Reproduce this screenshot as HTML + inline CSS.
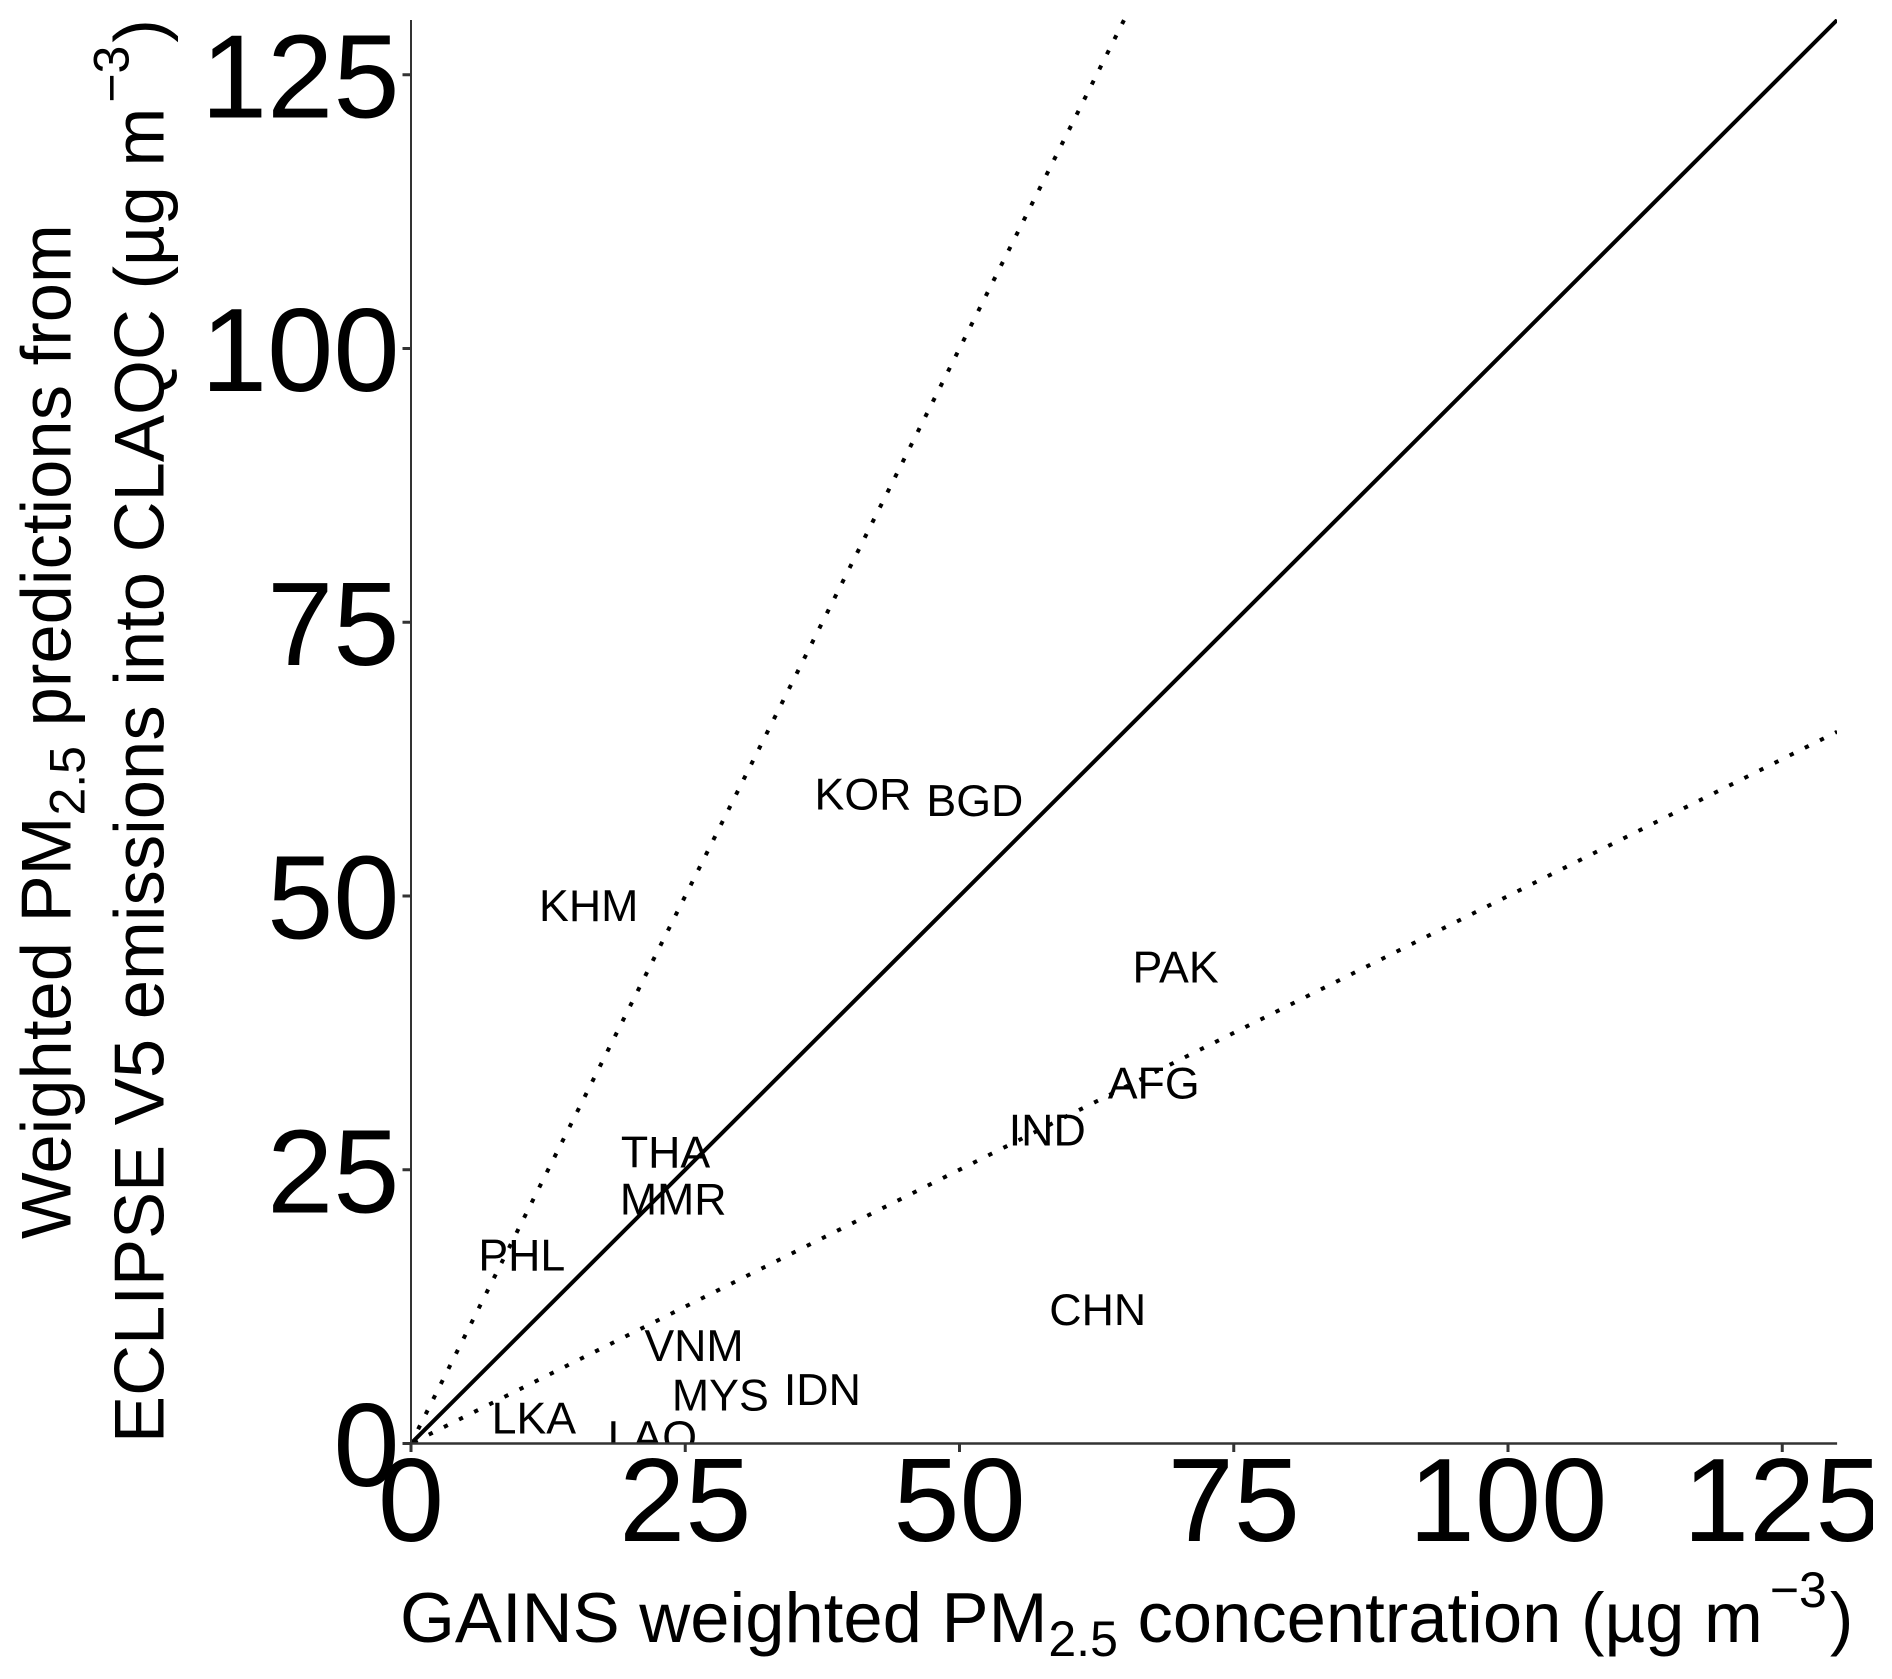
<!DOCTYPE html>
<html lang="en">
<head>
<meta charset="utf-8">
<title>GAINS vs ECLIPSE weighted PM2.5</title>
<style>
html,body{margin:0;padding:0;background:#fff;width:1892px;height:1679px;overflow:hidden}
svg{display:block;font-family:"Liberation Sans",Arial,sans-serif}
</style>
</head>
<body>
<svg id="chart" xmlns="http://www.w3.org/2000/svg" width="1892" height="1679" viewBox="0 0 1892 1679">
  <rect width="1892" height="1679" fill="#fff"/>
  <defs><clipPath id="panel-clip"><rect x="411" y="19" width="1426" height="1424.5"/></clipPath></defs>
  <g id="marks" clip-path="url(#panel-clip)"></g>
  <g id="axes"></g>
  <rect x="1873" y="1450" width="19" height="100" fill="#fff"/>
  <text x="400" y="1642" font-size="70.6" fill="#000">GAINS weighted PM<tspan font-size="50" dx="1" dy="14">2.5</tspan><tspan dy="-14"> concentration (µg m</tspan><tspan font-size="50" dx="7" dy="-35">−3</tspan><tspan dx="3" dy="35">)</tspan></text>
  <g font-size="70.6" fill="#000">
    <text transform="translate(70.7,1239) rotate(-90)">Weighted PM<tspan font-size="50" dx="1" dy="14">2.5</tspan><tspan dy="-14"> predictions from</tspan></text>
    <text transform="translate(163.5,1443) rotate(-90)">ECLIPSE V5 emissions into CLAQC (µg m<tspan font-size="50" dx="5" dy="-35">−3</tspan><tspan dx="3" dy="35">)</tspan></text>
  </g>
</svg>
<script>
const categories = ["KOR","BGD","KHM","PAK","AFG","IND","THA","MMR","PHL","CHN","VNM","IDN","MYS","LKA","LAO"];
const gainsValues = [41.2,51.4,16.2,69.7,67.7,58.0,23.2,23.9,10.1,62.6,25.8,37.5,28.2,11.2,22.0];
const eclipseValues = [59.2,58.6,49.0,43.4,32.8,28.5,26.5,22.2,17.1,12.1,8.8,4.8,4.3,2.2,0.5];
const xTickLabels = [0,25,50,75,100,125];
const yTickLabels = [0,25,50,75,100,125];
const refLineSlopes = [1,2,0.5];
const refLineNames = ["one-to-one-line","upper-factor-2-line","lower-factor-2-line"];
const axisMax = 130;

const NS = "http://www.w3.org/2000/svg";
const X0 = 411, Y0 = 1443.5, XUNIT = 10.97, YUNIT = 10.95;
function xScale(v){ return X0 + v * XUNIT; }
function yScale(v){ return Y0 - v * YUNIT; }
const marks = document.getElementById("marks");
const axes = document.getElementById("axes");
function make(tag, attrs, parent){
  const el = document.createElementNS(NS, tag);
  for (const k in attrs) el.setAttribute(k, attrs[k]);
  parent.appendChild(el);
  return el;
}

refLineSlopes.forEach(function(s, i){
  const xEnd = Math.min(axisMax, axisMax / s);
  const line = make("line", {
    x1: xScale(0), y1: yScale(0), x2: xScale(xEnd), y2: yScale(xEnd * s),
    stroke: "#000", "stroke-width": 4,
    "stroke-dasharray": s === 1 ? "none" : "4.3 12.6",
    "stroke-dashoffset": s > 1 ? 1 : -3
  }, marks);
  
  
});

categories.forEach(function(c, i){
  const t = make("text", {
    x: xScale(gainsValues[i]), y: yScale(eclipseValues[i]) + 14,
    "text-anchor": "middle", "font-size": 44.7, fill: "#000"
  }, marks);
  t.textContent = c;
  
  
});

const xAxisLine = make("line", {x1: X0 - 1, y1: Y0, x2: xScale(axisMax), y2: Y0, stroke: "#333", "stroke-width": 2.4}, axes);


const yAxisLine = make("line", {x1: X0, y1: Y0 + 1, x2: X0, y2: yScale(axisMax), stroke: "#333", "stroke-width": 2}, axes);



xTickLabels.forEach(function(v){
  const tick = make("line", {x1: xScale(v), y1: Y0, x2: xScale(v), y2: Y0 + 8.5, stroke: "#333", "stroke-width": 3}, axes);
  
  
  const label = make("text", {x: xScale(v), y: 1541, "text-anchor": "middle", "font-size": 119, fill: "#000"}, axes);
  label.textContent = v;
  
  
});
yTickLabels.forEach(function(v){
  const tick = make("line", {x1: X0, y1: yScale(v), x2: X0 - 8.5, y2: yScale(v), stroke: "#333", "stroke-width": 3}, axes);
  
  
  const label = make("text", {x: 399.5, y: yScale(v) + 42.5, "text-anchor": "end", "font-size": 119, fill: "#000"}, axes);
  label.textContent = v;
  
  
});
</script>
</body>
</html>
